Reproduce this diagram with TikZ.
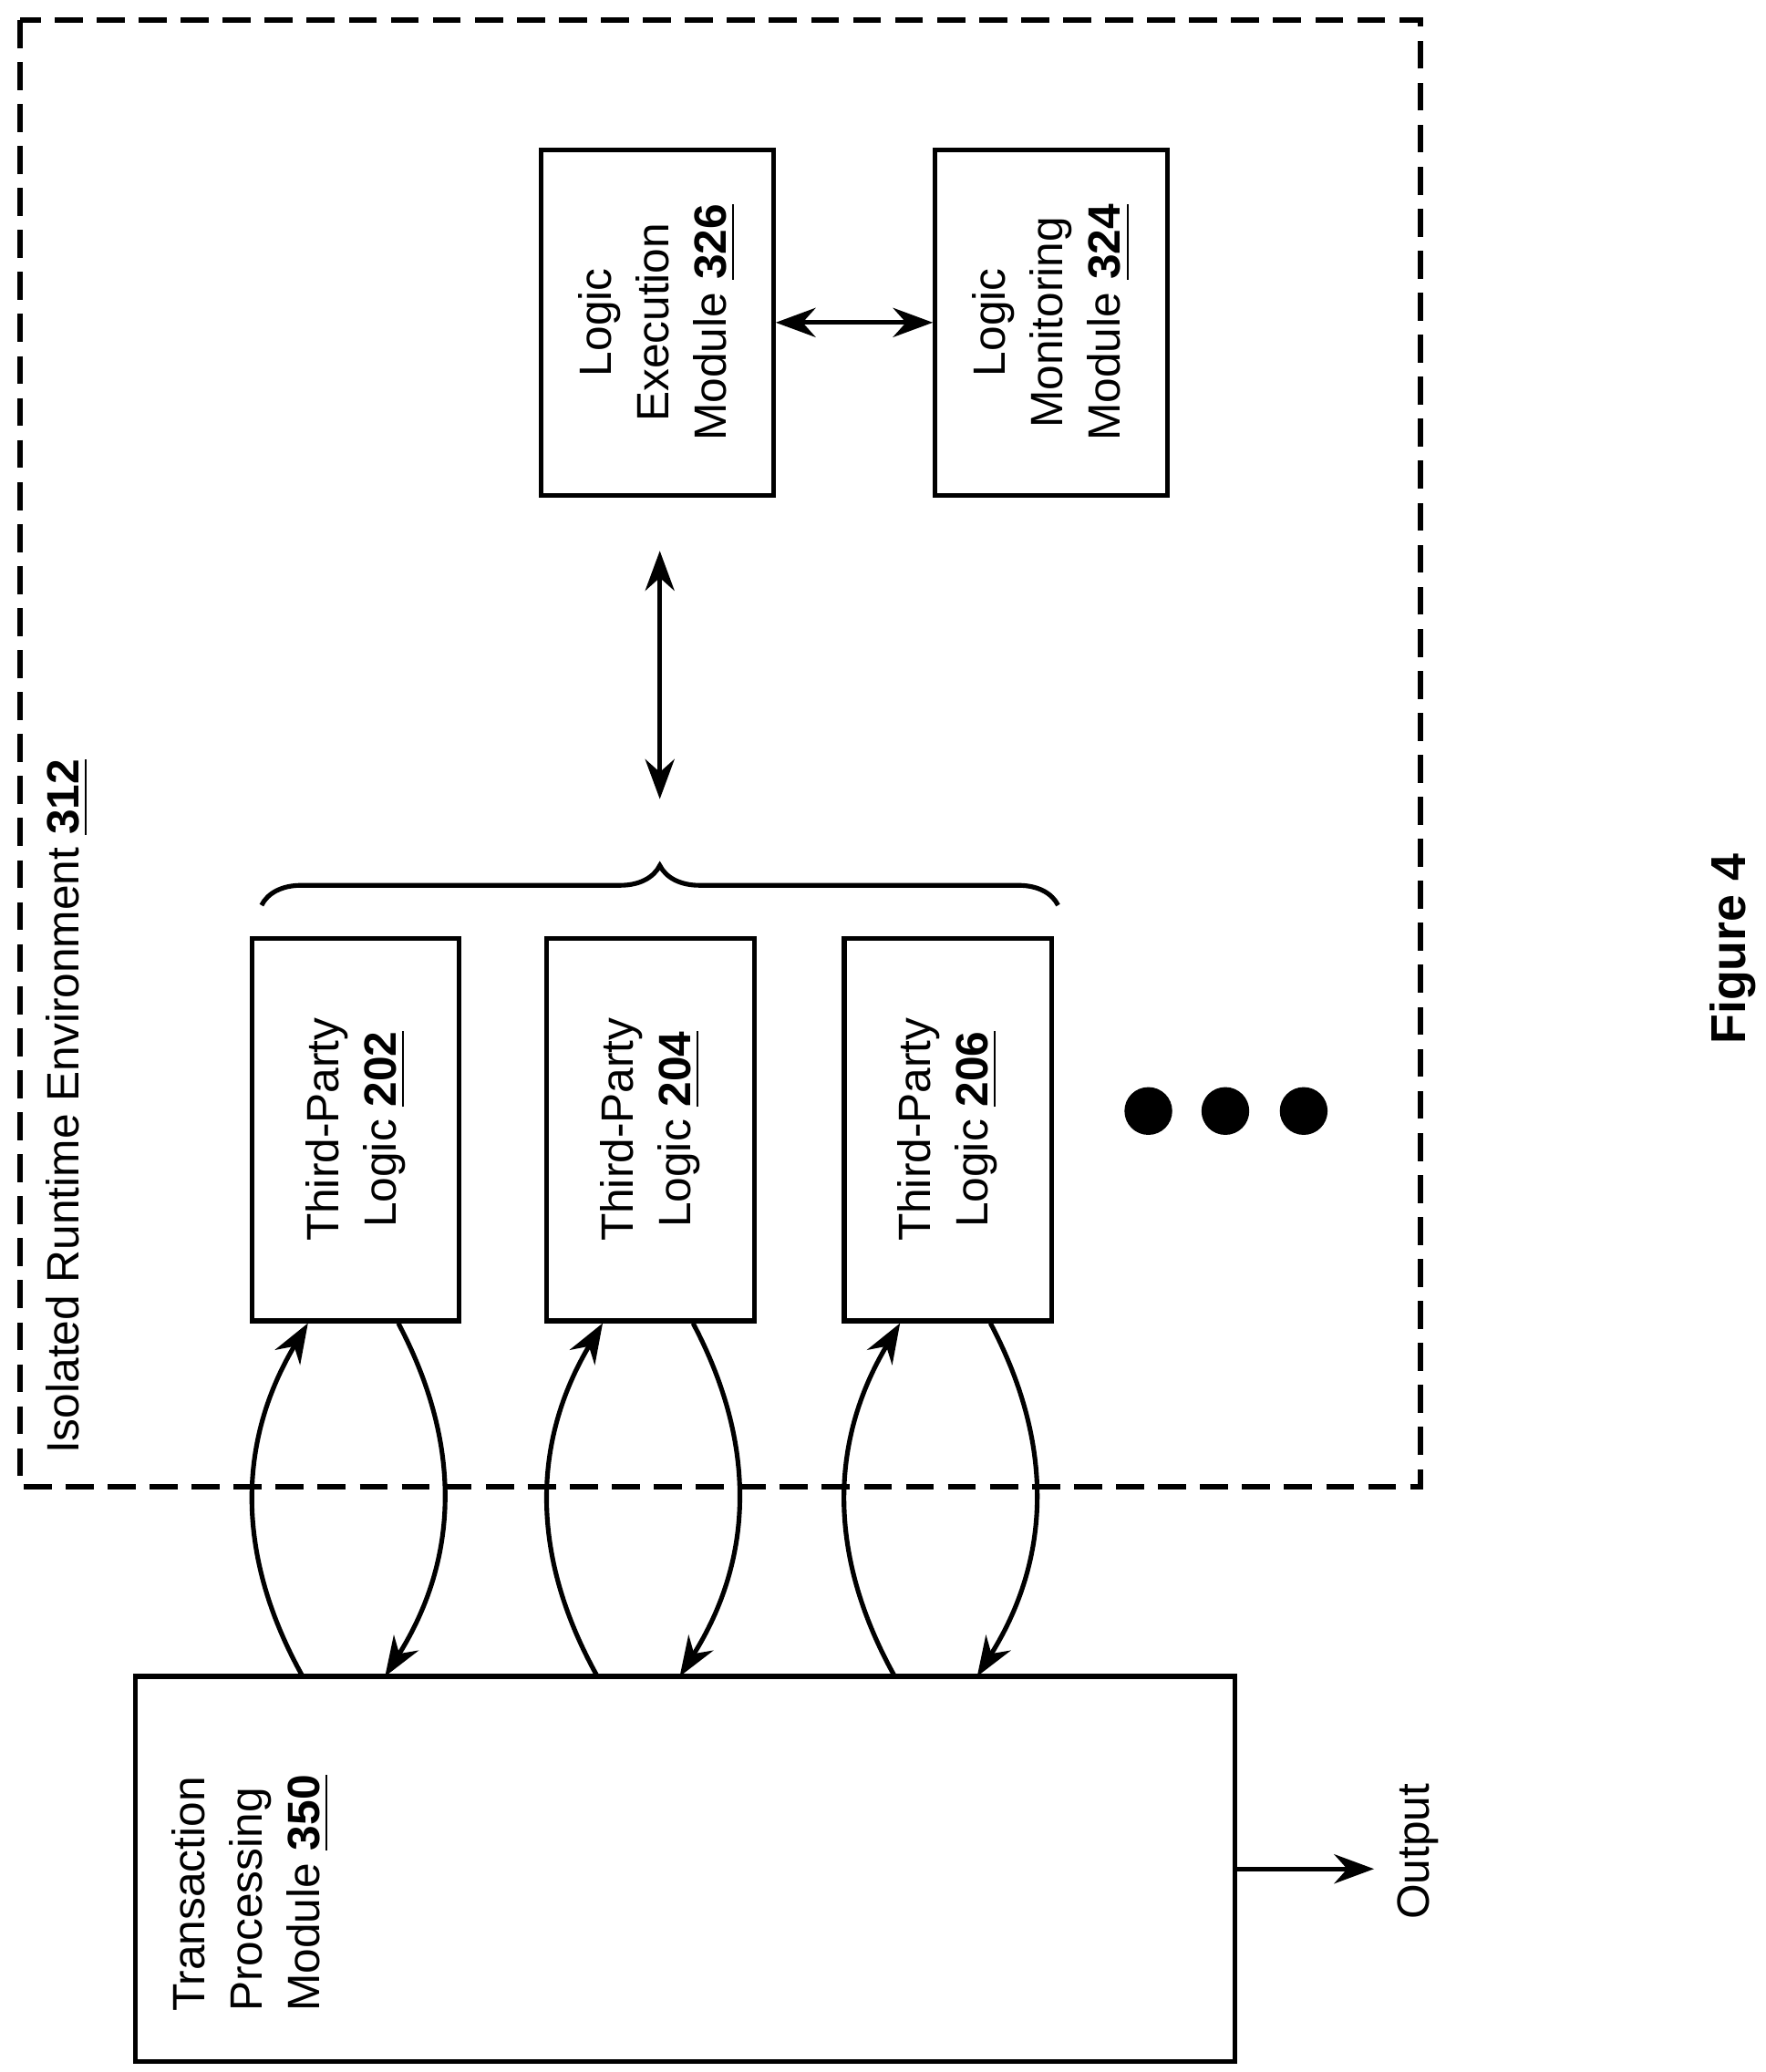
\documentclass[tikz,border=0pt]{standalone}
\usepackage{fontspec}
\setmainfont{Liberation Sans}
\usetikzlibrary{arrows.meta,decorations.pathreplacing}

\begin{document}
\begin{tikzpicture}[x=0.01cm,y=-0.01cm,
    font=\fontsize{9.7}{12.3}\selectfont,
    box/.style={draw,line width=1pt,inner sep=0pt},
    lbl/.style={rotate=90,align=center},
    arr/.style={line width=1pt,-{Stealth[length=3mm,width=2.2mm]}},
    darr/.style={line width=1pt,{Stealth[length=3mm,width=2.2mm]}-{Stealth[length=3mm,width=2.2mm]}}]
  \useasboundingbox (0,0) rectangle (1330,1561);
  % isolated runtime environment
  \draw [dashed,line width=1.2pt,dash pattern=on 6pt off 3pt] (15,15) rectangle (1070,1120);
  \node [lbl,anchor=north west,inner sep=0pt] (env) at (34,1096) {Isolated Runtime Environment \textbf{\underline{312}}};
  % logic modules
  \node [box,minimum width=1.75cm,minimum height=2.6cm] (exec) at (495,243) {};
  \node [lbl] at (exec) {Logic\\Execution\\Module \textbf{\underline{326}}};
  \node [box,minimum width=1.75cm,minimum height=2.6cm] (mon) at (792,243) {};
  \node [lbl] at (mon) {Logic\\Monitoring\\Module \textbf{\underline{324}}};
  \draw [darr] (exec) -- (mon);
  % third-party logic
  \foreach \n/\x in {202/268,204/490,206/714} {
    \node [box,minimum width=1.56cm,minimum height=2.88cm] (tp\n) at (\x,851) {};
    \node [lbl] at (tp\n) {Third-Party\\Logic \textbf{\underline{\n}}};
  }
  \draw [decorate,decoration={brace,amplitude=0.3cm},line width=1pt] (197,682) -- (797,682);
  \coordinate (brace) at (497,602);
  \draw [darr] (brace) -- (497,415);
  \foreach \x in {865,923,982} \fill (\x,837) circle (18);
  % transaction processing
  \node [box,minimum width=8.28cm,minimum height=2.9cm] (tpm) at (516,1408) {};
  \node [lbl,anchor=north west,align=left] at (117,1528) {Transaction\\Processing\\Module \textbf{\underline{350}}};
  \foreach \n/\x in {202/268,204/490,206/714} {
    \draw [arr] (\x-40,1263) to[bend left=30] ([xshift=-0.36cm]tp\n.south);
    \draw [arr] ([xshift=0.32cm]tp\n.south) to[bend left=30] (\x+22,1263);
  }
  \coordinate (out) at (1035,1408);
  \draw [arr] (tpm.east) -- (out);
  \node [lbl] (outlbl) at (1068,1395) {Output};
  \node [lbl,font=\fontsize{10.5}{13}\selectfont\bfseries] (fig) at (1305,715) {Figure 4};
\end{tikzpicture}
\end{document}
